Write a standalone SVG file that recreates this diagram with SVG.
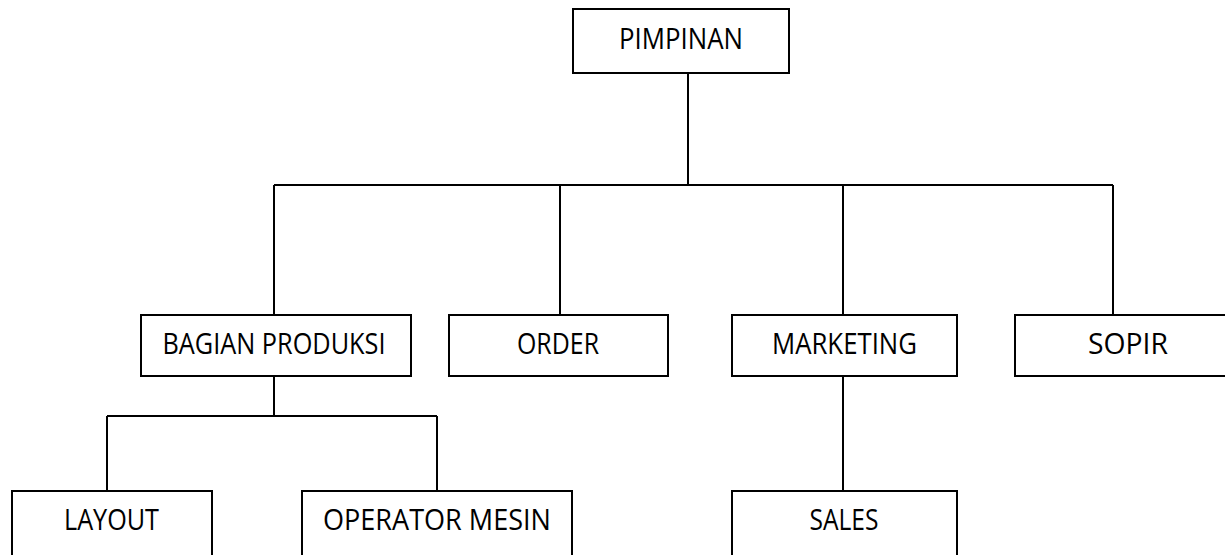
<svg xmlns="http://www.w3.org/2000/svg" width="1225" height="555" viewBox="0 0 1225 555">
<style>
.box{fill:#fff;stroke:#000;stroke-width:2}
.lbl{font-family:"Open Sans","Liberation Sans",sans-serif;font-size:29px;fill:#000;text-anchor:middle}
.con{fill:none;stroke:#000;stroke-width:2}
</style>
<rect width="1225" height="555" fill="#fff"/>
<g id="connectors">
<path class="con" d="M688 73V185M274 185H1113M274 185V315M560 185V315M843 185V315M1113 185V315"/>
<path class="con" d="M274 376V416M107 416H437M107 416V491M437 416V491"/>
<path class="con" d="M843 376V491"/>
</g>
<g id="pimpinan"><rect class="box" x="573" y="9" width="216" height="64"/><text class="lbl" x="681" y="49" textLength="124" lengthAdjust="spacingAndGlyphs">PIMPINAN</text></g>
<g id="bagian-produksi"><rect class="box" x="141" y="315" width="270" height="61"/><text class="lbl" x="274" y="354" textLength="223" lengthAdjust="spacingAndGlyphs">BAGIAN PRODUKSI</text></g>
<g id="order"><rect class="box" x="449" y="315" width="219" height="61"/><text class="lbl" x="558" y="354" textLength="82" lengthAdjust="spacingAndGlyphs">ORDER</text></g>
<g id="marketing"><rect class="box" x="732" y="315" width="225" height="61"/><text class="lbl" x="844.5" y="354" textLength="145" lengthAdjust="spacingAndGlyphs">MARKETING</text></g>
<g id="sopir"><rect class="box" x="1015" y="315" width="226" height="61"/><text class="lbl" x="1128" y="354" textLength="80" lengthAdjust="spacingAndGlyphs">SOPIR</text></g>
<g id="layout"><rect class="box" x="12" y="491" width="200" height="80"/><text class="lbl" x="111.5" y="530" textLength="95" lengthAdjust="spacingAndGlyphs">LAYOUT</text></g>
<g id="operator-mesin"><rect class="box" x="302" y="491" width="270" height="80"/><text class="lbl" x="437" y="530" textLength="228" lengthAdjust="spacingAndGlyphs">OPERATOR MESIN</text></g>
<g id="sales"><rect class="box" x="732" y="491" width="225" height="80"/><text class="lbl" x="844" y="530" textLength="69" lengthAdjust="spacingAndGlyphs">SALES</text></g>
</svg>
